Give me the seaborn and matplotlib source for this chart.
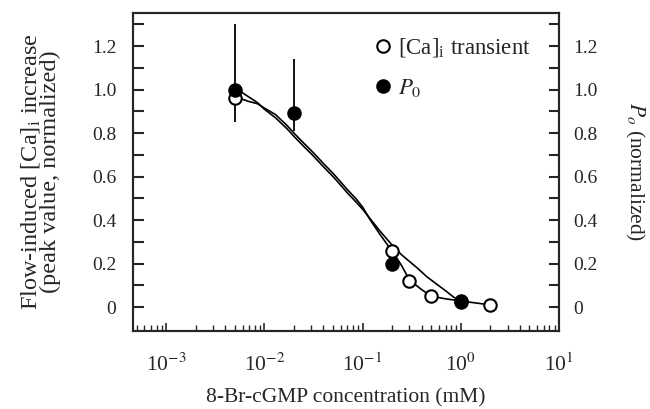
import numpy as np
import pandas as pd
import matplotlib
matplotlib.use("Agg")
import matplotlib.pyplot as plt
import seaborn as sns
from matplotlib.lines import Line2D
from matplotlib.ticker import LogLocator, FixedLocator, NullFormatter

# ---- data ----
ca_x = [0.005, 0.2, 0.3, 0.5, 1.0, 2.0]
ca_y = [0.96, 0.26, 0.12, 0.05, 0.028, 0.01]
ca_err_low = [0.11, 0, 0, 0, 0, 0]
ca_err_high = [0, 0, 0, 0, 0, 0]

p0_x = [0.005, 0.02, 0.2, 1.0]
p0_y = [1.0, 0.89, 0.2, 0.025]
p0_err_low = [0, 0.08, 0, 0]
p0_err_high = [0.30, 0.25, 0, 0]

# fitted curves, read point-by-point from the picture
fit_ca_x = [0.005, 0.006, 0.007, 0.0085, 0.01, 0.013, 0.017, 0.02, 0.025, 0.03, 0.04,
            0.05, 0.06, 0.07, 0.085, 0.1, 0.12, 0.15, 0.18, 0.2, 0.25, 0.3, 0.4, 0.5,
            0.7, 1.0, 2.0]
fit_ca_y = [0.96, 0.955, 0.945, 0.935, 0.915, 0.885, 0.835, 0.80, 0.755, 0.72, 0.66,
            0.615, 0.575, 0.54, 0.50, 0.46, 0.40, 0.335, 0.285, 0.26, 0.19, 0.125, 0.08, 0.05,
            0.038, 0.028, 0.01]
fit_p0_x = [0.005, 0.006, 0.007, 0.0085, 0.01, 0.013, 0.017, 0.02, 0.025, 0.03, 0.04,
            0.05, 0.06, 0.07, 0.085, 0.1, 0.12, 0.15, 0.2, 0.25, 0.3, 0.36, 0.45, 0.57,
            0.7, 0.85, 1.0]
fit_p0_y = [1.0, 0.985, 0.965, 0.94, 0.91, 0.87, 0.82, 0.785, 0.74, 0.705, 0.645,
            0.60, 0.56, 0.525, 0.485, 0.45, 0.405, 0.35, 0.285, 0.24, 0.21, 0.18, 0.14, 0.105,
            0.075, 0.045, 0.028]

y_ticks = [0, 0.2, 0.4, 0.6, 0.8, 1.0, 1.2]
y_ticklabels = ["0", "0.2", "0.4", "0.6", "0.8", "1.0", "1.2"]
x_ticks = [1e-3, 1e-2, 1e-1, 1e0, 1e1]
x_ticklabels = [r"10$^{-3}$", r"10$^{-2}$", r"10$^{-1}$", r"10$^{0}$", r"10$^{1}$"]

# ---- style ----
sns.set_style("ticks")
plt.rcParams["font.family"] = ["Liberation Serif", "DejaVu Serif"]
plt.rcParams["mathtext.fontset"] = "stix"
plt.rcParams["axes.linewidth"] = 1.5

fig = plt.figure(figsize=(6.5, 4.09), dpi=100)
ax = fig.add_axes([133/650, 1-331/409, (559-133)/650, (331-13)/409])

fit_ca = pd.DataFrame({"x": fit_ca_x, "y": fit_ca_y})
fit_p0 = pd.DataFrame({"x": fit_p0_x, "y": fit_p0_y})
sns.lineplot(data=fit_ca, x="x", y="y", ax=ax, color="black", lw=1.2, sort=False, zorder=2)
sns.lineplot(data=fit_p0, x="x", y="y", ax=ax, color="black", lw=1.2, sort=False, zorder=2)

# error bars
ax.errorbar(p0_x, p0_y, yerr=[p0_err_low, p0_err_high], fmt="none", ecolor="black",
            elinewidth=1.3, capsize=0, zorder=1)
ax.errorbar(ca_x, ca_y, yerr=[ca_err_low, ca_err_high], fmt="none", ecolor="black",
            elinewidth=1.3, capsize=0, zorder=1)

ca_df = pd.DataFrame({"x": ca_x, "y": ca_y})
p0_df = pd.DataFrame({"x": p0_x, "y": p0_y})
sns.scatterplot(data=ca_df, x="x", y="y", ax=ax, s=80, marker="o",
                facecolor="white", edgecolor="black", linewidth=1.5, zorder=3)
sns.scatterplot(data=p0_df, x="x", y="y", ax=ax, s=80, marker="o",
                facecolor="black", edgecolor="black", linewidth=1.5, zorder=4)

ax.set_xscale("log")
ax.set_xlim(4.6e-4, 10)
ax.set_ylim(-0.11, 1.352)

ax.xaxis.set_major_locator(FixedLocator(x_ticks))
ax.set_xticklabels(x_ticklabels)
ax.xaxis.set_minor_locator(LogLocator(base=10, subs=np.arange(2, 10)))
ax.xaxis.set_minor_formatter(NullFormatter())
ax.tick_params(axis="x", which="major", direction="in", length=6, width=1.2,
               labelsize=15.5, pad=16, top=False)
ax.tick_params(axis="x", which="minor", direction="in", length=4, width=1.0, top=False)

ax.set_yticks(y_ticks)
ax.set_yticklabels(y_ticklabels)
ax.yaxis.set_minor_locator(FixedLocator(np.arange(0.1, 1.35, 0.2)))
ax.tick_params(axis="y", which="both", direction="in", length=8, width=1.5,
               labelsize=14, pad=12, left=True, right=True)

ax2 = ax.twinx()
ax2.set_ylim(ax.get_ylim())
ax2.set_yticks(y_ticks)
ax2.set_yticklabels(y_ticklabels)
ax2.yaxis.set_minor_locator(FixedLocator(np.arange(0.1, 1.35, 0.2)))
ax2.tick_params(axis="y", which="both", direction="in", length=7, width=1.5,
                labelsize=14, pad=10)
for sp in ax2.spines.values():
    sp.set_linewidth(1.5)

ax.set_xlabel("8-Br-cGMP concentration (mM)", fontsize=15.5, labelpad=9)
ax.set_ylabel("Flow-induced [Ca]$_{\\mathregular{i}}$ increase\n(peak value, normalized)",
              fontsize=17.5, linespacing=0.9)
ax.yaxis.set_label_coords(-0.168, 0.5)
ax2.set_ylabel("$P_o$ (normalized)", fontsize=15.5, rotation=270, labelpad=35)

handles = [
    Line2D([], [], marker="o", ls="none", markerfacecolor="white", markeredgecolor="black",
           markersize=9, markeredgewidth=1.5),
    Line2D([], [], marker="o", ls="none", markerfacecolor="black", markeredgecolor="black",
           markersize=9, markeredgewidth=1.5),
]
ax.legend(handles, ["[Ca]$_{\\mathregular{i}}$ transient", "$P_0$"], loc="upper left",
          bbox_to_anchor=((362 - 133) / 426, 0.955), frameon=False, fontsize=16.5,
          handletextpad=0.15, labelspacing=0.75, handlelength=1.0, borderaxespad=0)

fig.savefig("out.png", dpi=100)
